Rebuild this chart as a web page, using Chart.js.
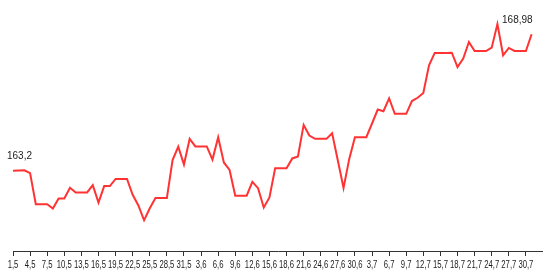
<!DOCTYPE html>
<html>
<head>
<meta charset="utf-8">
<script src="https://cdn.jsdelivr.net/npm/chart.js@4/dist/chart.umd.min.js"></script>
<style>
  html, body { margin: 0; padding: 0; background: #fff; }
  #wrap { width: 543px; height: 280px; position: relative; }
</style>
</head>
<body>
<div id="wrap"><canvas id="priceChart"></canvas></div>
<script>
// daily dates, day,month
const dates = [
    '1,5','2,5','3,5','4,5','5,5','6,5','7,5','8,5','9,5','10,5','11,5','12,5','13,5','14,5','15,5','16,5',
    '17,5','18,5','19,5','20,5','21,5','22,5','23,5','24,5','25,5','26,5','27,5','28,5','29,5','30,5','31,5',
    '1,6','2,6','3,6','4,6','5,6','6,6','7,6','8,6','9,6','10,6','11,6','12,6','13,6','14,6','15,6',
    '16,6','17,6','18,6','19,6','20,6','21,6','22,6','23,6','24,6','25,6','26,6','27,6','28,6','29,6','30,6',
    '1,7','2,7','3,7','4,7','5,7','6,7','7,7','8,7','9,7','10,7','11,7','12,7','13,7','14,7','15,7','16,7',
    '17,7','18,7','19,7','20,7','21,7','22,7','23,7','24,7','25,7','26,7','27,7','28,7','29,7','30,7','31,7'
];

const values = [
    163.2, 163.21, 163.22, 163.10, 161.78, 161.78, 161.78, 161.60, 162.02, 162.02,
    162.48, 162.28, 162.28, 162.28, 162.59, 161.85, 162.55, 162.55, 162.85, 162.85,
    162.85, 162.18, 161.73, 161.10, 161.61, 162.04, 162.04, 162.04, 163.65, 164.22,
    163.46, 164.55, 164.23, 164.23, 164.23, 163.67, 164.62, 163.55, 163.23, 162.14,
    162.14, 162.14, 162.73, 162.46, 161.64, 162.07, 163.30, 163.30, 163.30, 163.72,
    163.80, 165.14, 164.69, 164.55, 164.55, 164.55, 164.79, 163.63, 162.47, 163.70,
    164.62, 164.62, 164.62, 165.20, 165.79, 165.72, 166.26, 165.61, 165.61, 165.61,
    166.15, 166.29, 166.49, 167.66, 168.19, 168.19, 168.19, 168.20, 167.59, 167.95,
    168.65, 168.27, 168.27, 168.27, 168.41, 169.41, 168.09, 168.40, 168.27, 168.27,
    168.27, 168.98
];

const tickEvery = 3;

// writes the first and last value above the line
const endLabels = {
    id: 'endLabels',
    afterDatasetsDraw(chart) {
        const pts = chart.getDatasetMeta(0).data;
        const ctx = chart.ctx;
        const fmt = v => String(v).replace('.', ',');
        ctx.save();
        ctx.font = '10px "Liberation Sans", Arial, sans-serif';
        ctx.fillStyle = '#222';
        ctx.textBaseline = 'alphabetic';
        const first = pts[0];
        ctx.textAlign = 'left';
        ctx.fillText(fmt(values[0]), first.x - 6, first.y - 12);
        const last = pts[pts.length - 1];
        ctx.textAlign = 'right';
        ctx.fillText(fmt(values[values.length - 1]), last.x + 1, last.y - 11);
        ctx.restore();
    }
};

// narrow date labels under the x axis (no condensed font available, so squeeze)
const narrowTicks = {
    id: 'narrowTicks',
    afterDraw(chart) {
        const sx = chart.scales.x;
        const ctx = chart.ctx;
        const y = chart.chartArea.bottom + 17;
        ctx.save();
        ctx.font = '11px "Liberation Sans", Arial, sans-serif';
        ctx.fillStyle = '#1a1a1a';
        ctx.textAlign = 'center';
        ctx.textBaseline = 'alphabetic';
        sx.ticks.forEach(t => {
            const x = sx.getPixelForValue(t.value);
            ctx.save();
            ctx.translate(x, y);
            ctx.scale(0.7, 1);
            ctx.fillText(dates[t.value], 0, 0);
            ctx.restore();
        });
        ctx.restore();
    }
};

const ctx = document.getElementById('priceChart').getContext('2d');
new Chart(ctx, {
    type: 'line',
    data: {
        datasets: [{
            data: values.map((v, i) => ({ x: i, y: v })),
            borderColor: 'rgb(255, 51, 51)',
            borderWidth: 2,
            pointRadius: 0,
            tension: 0,
            fill: false
        }]
    },
    options: {
        responsive: true,
        maintainAspectRatio: false,
        animation: false,
        layout: { padding: { left: 13, right: 0, top: 0, bottom: 6 } },
        plugins: {
            legend: { display: false },
            tooltip: { enabled: false }
        },
        scales: {
            x: {
                type: 'linear',
                min: 0,
                max: 93,
                afterBuildTicks(scale) {
                    scale.ticks = dates
                        .map((d, i) => ({ value: i }))
                        .filter(t => t.value % tickEvery === 0);
                },
                grid: {
                    drawOnChartArea: false,
                    drawTicks: true,
                    tickLength: 5,
                    color: '#333'
                },
                border: { display: true, color: '#333', width: 1 },
                ticks: {
                    autoSkip: false,
                    maxRotation: 0,
                    padding: 3,
                    color: 'rgba(0,0,0,0)',
                    font: { size: 10 },
                    callback: v => dates[v]
                }
            },
            y: {
                display: false,
                min: 159.8,
                max: 170.43
            }
        }
    },
    plugins: [endLabels, narrowTicks]
});
</script>
</body>
</html>
